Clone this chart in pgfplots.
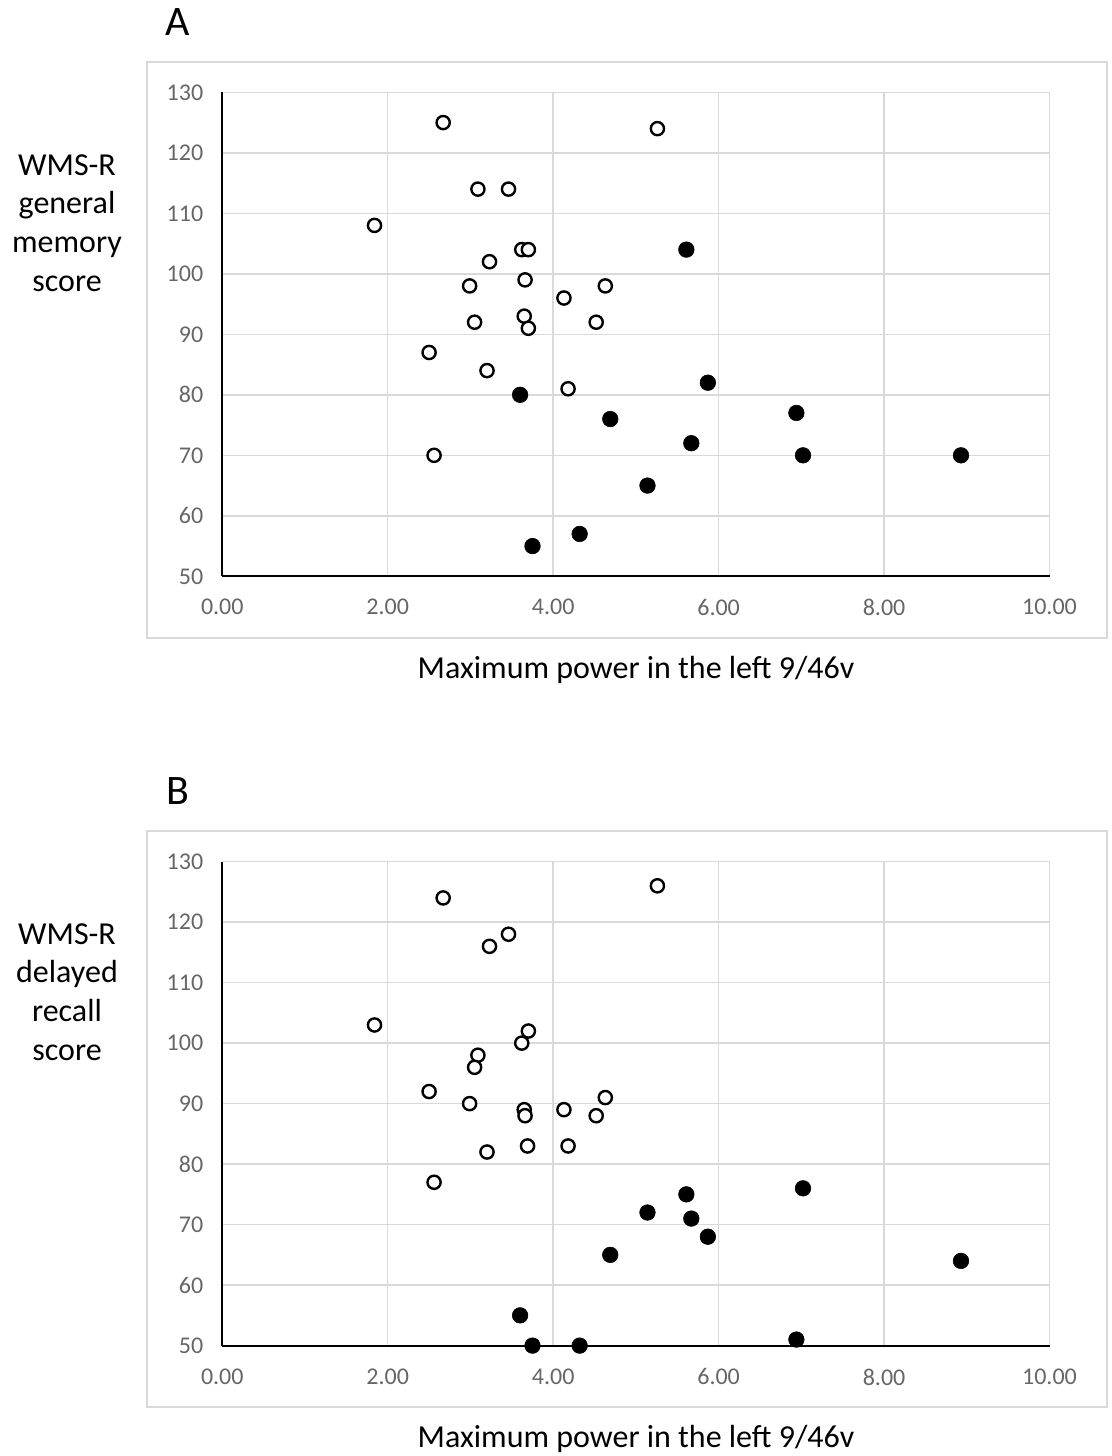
\documentclass[border=0pt]{standalone}
\usepackage{fontspec}
\setmainfont{Carlito}
\usepackage{pgfplots}
\pgfplotsset{compat=1.18}
\definecolor{gridgray}{HTML}{D9D9D9}
\definecolor{ticktext}{HTML}{666666}

\pgfplotsset{
 myaxis/.style={
  scale only axis, width=413.6pt, height=242pt,
  xmin=0, xmax=10, ymin=50, ymax=130,
  xtick={0,2,4,6,8,10}, xticklabels={0.00,2.00,4.00,6.00,8.00,10.00},
  ytick={50,60,70,80,90,100,110,120,130},
  axis x line=bottom, axis y line=left,
  axis line style={black, line width=1pt, -},
  grid=major, major grid style={gridgray, line width=0.75pt},
  major tick length=0pt, tick style={draw=none},
  ticklabel style={font=\fontsize{12}{14}\selectfont, text=ticktext},
  xticklabel shift=8pt, yticklabel shift=6pt,
  clip=false,
  /pgf/number format/assume math mode=true,
 },
 openpt/.style={only marks, mark=*, mark size=3.3pt, mark options={fill=white, draw=black, line width=1.2pt}},
 fillpt/.style={only marks, mark=*, mark size=3.9pt, mark options={fill=black, draw=black, line width=0.3pt}},
}

\pgfplotstableread{
x y
2.67 125
3.09 114
3.46 114
1.84 108
3.62 104
3.70 104
3.23 102
2.99 98
3.66 99
4.13 96
4.63 98
3.05 92
3.65 93
3.70 91
4.52 92
2.50 87
3.20 84
4.18 81
2.56 70
5.26 124
}\Aopen
\pgfplotstableread{
x y
3.60 80
4.69 76
3.75 55
4.32 57
5.61 104
5.87 82
6.94 77
5.67 72
7.02 70
8.93 70
5.14 65
}\Afill
\pgfplotstableread{
x y
2.67 124
3.23 116
3.46 118
1.84 103
3.70 102
3.62 100
3.09 98
3.05 96
2.50 92
2.99 90
3.65 89
3.66 88
4.13 89
4.52 88
4.63 91
3.20 82
3.69 83
4.18 83
2.56 77
5.26 126
}\Bopen
\pgfplotstableread{
x y
4.69 65
3.60 55
3.75 50
4.32 50
7.02 76
5.61 75
5.14 72
5.67 71
5.87 68
8.93 64
6.94 51
}\Bfill

\begin{document}
\begin{tikzpicture}
\path[use as bounding box] (0pt,0pt) rectangle (556pt,-728pt);
% ---------- Panel A ----------
\draw[gridgray, line width=0.75pt] (73.5pt,-31pt) rectangle (553.5pt,-319pt);
\node[font=\fontsize{21}{25}\selectfont] at (89pt,-11pt) {A};
\node[font=\fontsize{16}{19.4}\selectfont, align=center] at (33.5pt,-111.5pt) {WMS-R\\general\\memory\\score};
\node[font=\fontsize{16}{19.4}\selectfont] at (318pt,-335pt) {Maximum power in the left 9/46v};
\begin{axis}[myaxis, at={(111.15pt,-288.15pt)}, anchor=south west]
\addplot[openpt] table[x=x,y=y] {\Aopen};
\addplot[fillpt] table[x=x,y=y] {\Afill};
\end{axis}
% ---------- Panel B ----------
\draw[gridgray, line width=0.75pt] (73.5pt,-415.5pt) rectangle (553.5pt,-703.5pt);
\node[font=\fontsize{21}{25}\selectfont] at (89pt,-395.5pt) {B};
\node[font=\fontsize{16}{19.4}\selectfont, align=center] at (33.5pt,-496pt) {WMS-R\\delayed\\recall\\score};
\node[font=\fontsize{16}{19.4}\selectfont] at (318pt,-719.5pt) {Maximum power in the left 9/46v};
\begin{axis}[myaxis, at={(111.15pt,-672.8pt)}, anchor=south west]
\addplot[openpt] table[x=x,y=y] {\Bopen};
\addplot[fillpt] table[x=x,y=y] {\Bfill};
\end{axis}
\end{tikzpicture}
\end{document}
